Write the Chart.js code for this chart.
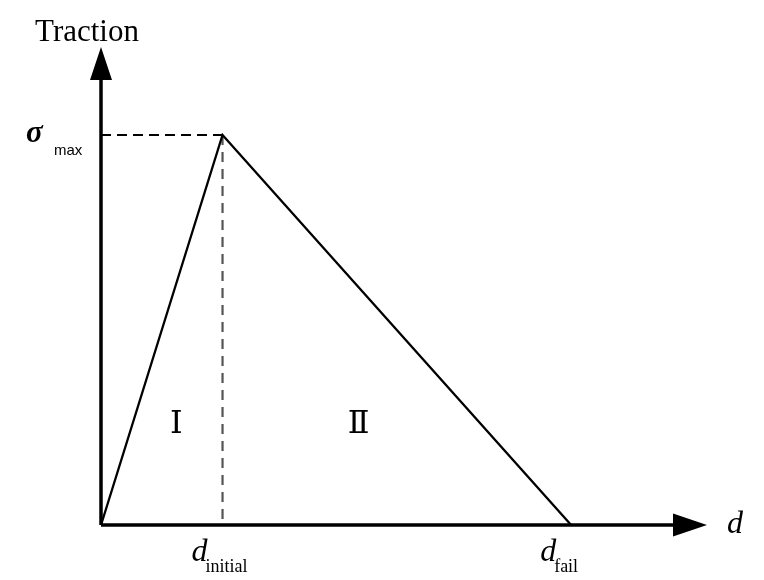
<!DOCTYPE html>
<html>
<head>
<meta charset="utf-8">
<script src="https://cdn.jsdelivr.net/npm/chart.js@4"></script>
<style>
  html, body { margin: 0; padding: 0; background: #fff; }
  #wrap { width: 764px; height: 580px; }
</style>
</head>
<body>
<div id="wrap"><canvas id="myChart" width="764" height="580"></canvas></div>
<script>
// bilinear traction-separation law (normalised units)
const separation = [0, 0.2585, 1.0];      // 0, d_initial, d_fail
const traction = [0, 1.0, 0];              // 0, sigma_max, 0
const axisMax = [1.289, 1.2256];           // arrow tips on d and Traction axes
const regionNames = ['Ⅰ', 'Ⅱ'];
const regionX = [0.16, 0.548];
const regionY = 0.27;

const serif = "'Liberation Serif', 'DejaVu Serif', serif";

const sketch = {
    id: 'sketch',
    afterDatasetsDraw(chart) {
        const ctx = chart.ctx;
        const xs = chart.scales.x, ys = chart.scales.y;
        const ox = xs.getPixelForValue(0), oy = ys.getPixelForValue(0);
        const tipX = xs.getPixelForValue(axisMax[0]);
        const tipY = ys.getPixelForValue(axisMax[1]);

        ctx.save();
        ctx.strokeStyle = '#000';
        ctx.fillStyle = '#000';
        ctx.lineWidth = 3.5;
        ctx.beginPath();
        ctx.moveTo(ox, oy); ctx.lineTo(tipX - 30, oy);
        ctx.moveTo(ox, oy); ctx.lineTo(ox, tipY + 30);
        ctx.stroke();

        // arrow heads
        ctx.beginPath();
        ctx.moveTo(tipX, oy); ctx.lineTo(tipX - 34, oy - 11.5); ctx.lineTo(tipX - 34, oy + 11.5);
        ctx.closePath(); ctx.fill();
        ctx.beginPath();
        ctx.moveTo(ox, tipY); ctx.lineTo(ox - 11, tipY + 33); ctx.lineTo(ox + 11, tipY + 33);
        ctx.closePath(); ctx.fill();

        ctx.textBaseline = 'alphabetic';
        ctx.textAlign = 'center';
        ctx.font = '31px ' + serif;
        ctx.fillText('Traction', ox - 14, 41);

        // sigma_max
        const sy = ys.getPixelForValue(traction[1]);
        ctx.textAlign = 'left';
        ctx.font = 'italic bold 31px ' + serif;
        ctx.fillText('σ', 26, sy + 7);
        ctx.font = '15px Arial, "Liberation Sans", sans-serif';
        ctx.fillText('max', 54, sy + 20);

        // d labels
        const subLabel = (xv, sub) => {
            const px = xs.getPixelForValue(xv);
            ctx.font = 'italic 32px ' + serif;
            ctx.textAlign = 'right';
            ctx.fillText('d', px - 15, oy + 36);
            ctx.font = '18px ' + serif;
            ctx.textAlign = 'left';
            ctx.fillText(sub, px - 17, oy + 47);
        };
        subLabel(separation[1], 'initial');
        subLabel(separation[2], 'fail');

        ctx.font = 'italic 32px ' + serif;
        ctx.textAlign = 'left';
        ctx.fillText('d', tipX + 20, oy + 8);

        ctx.font = '32px ' + serif;
        ctx.textAlign = 'center';
        regionNames.forEach((t, i) => {
            ctx.fillText(t, xs.getPixelForValue(regionX[i]), ys.getPixelForValue(regionY) + 13);
        });
        ctx.restore();
    }
};

new Chart(document.getElementById('myChart').getContext('2d'), {
    type: 'scatter',
    data: {
        datasets: [{
            data: separation.map((v, i) => ({ x: v, y: traction[i] })),
            showLine: true,
            borderColor: '#000',
            borderWidth: 2.3,
            pointRadius: 0
        }, {
            data: [{ x: 0, y: traction[1] }, { x: separation[1], y: traction[1] }],
            showLine: true,
            borderColor: '#000',
            borderWidth: 2.2,
            borderDash: [10, 6],
            pointRadius: 0
        }, {
            data: [{ x: separation[1], y: traction[1] }, { x: separation[1], y: 0 }],
            showLine: true,
            borderColor: '#555',
            borderWidth: 2.2,
            borderDash: [10, 7],
            pointRadius: 0
        }]
    },
    options: {
        responsive: false,
        animation: false,
        layout: { padding: { left: 101, right: 57, top: 47, bottom: 55 } },
        plugins: { legend: { display: false }, tooltip: { enabled: false } },
        scales: {
            x: { type: 'linear', display: false, min: 0, max: axisMax[0] },
            y: { type: 'linear', display: false, min: 0, max: axisMax[1] }
        }
    },
    plugins: [sketch]
});
</script>
</body>
</html>
